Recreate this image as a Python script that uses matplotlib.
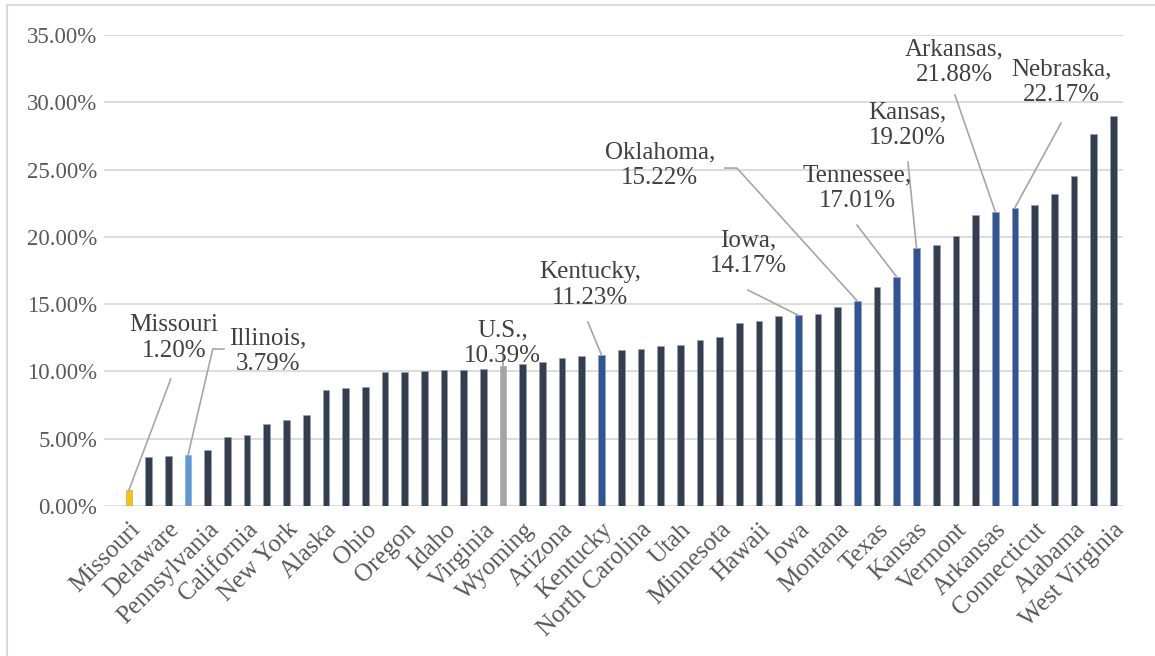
import numpy as np
import matplotlib
matplotlib.use("Agg")
import matplotlib.pyplot as plt
from matplotlib.patches import Rectangle

plt.rcParams['font.family'] = ['Liberation Serif', 'DejaVu Serif']

# categories (only every other one is printed on the axis; '' = not readable)
states = ["Missouri", "", "Delaware", "Illinois", "Pennsylvania", "", "California", "",
          "New York", "", "Alaska", "", "Ohio", "", "Oregon", "", "Idaho", "", "Virginia",
          "U.S.", "Wyoming", "", "Arizona", "", "Kentucky", "", "North Carolina", "", "Utah",
          "", "Minnesota", "", "Hawaii", "", "Iowa", "", "Montana", "Oklahoma", "Texas",
          "Tennessee", "Kansas", "", "Vermont", "", "Arkansas", "Nebraska", "Connecticut", "",
          "Alabama", "", "West Virginia"]
tick_names = ["Missouri", "Delaware", "Pennsylvania", "California", "New York", "Alaska",
              "Ohio", "Oregon", "Idaho", "Virginia", "Wyoming", "Arizona", "Kentucky",
              "North Carolina", "Utah", "Minnesota", "Hawaii", "Iowa", "Montana", "Texas",
              "Kansas", "Vermont", "Arkansas", "Connecticut", "Alabama", "West Virginia"]

# percent values
values = [1.20, 3.62, 3.71, 3.79, 4.16, 5.10, 5.27, 6.07, 6.39, 6.74,
          8.64, 8.77, 8.82, 9.93, 9.98, 10.00, 10.10, 10.12, 10.18, 10.39,
          10.55, 10.70, 11.02, 11.17, 11.23, 11.57, 11.64, 11.87, 12.00, 12.30,
          12.58, 13.63, 13.78, 14.13, 14.17, 14.30, 14.78, 15.22, 16.26, 17.01,
          19.20, 19.43, 20.10, 21.63, 21.88, 22.17, 22.37, 23.21, 24.51, 27.64,
          29.01]

# annotated bars: name shown, label text
labelled = {
    "Missouri": "Missouri\n1.20%",
    "Illinois": "Illinois,\n3.79%",
    "U.S.": "U.S.,\n10.39%",
    "Kentucky": "Kentucky,\n11.23%",
    "Iowa": "Iowa,\n14.17%",
    "Oklahoma": "Oklahoma,\n15.22%",
    "Tennessee": "Tennessee,\n17.01%",
    "Kansas": "Kansas,\n19.20%",
    "Arkansas": "Arkansas,\n21.88%",
    "Nebraska": "Nebraska,\n22.17%",
}

DARK = "#333F50"
BLUE = "#2F5597"
colors = [DARK] * len(values)
colors[states.index("Missouri")] = "#FFC000"
colors[states.index("Illinois")] = "#5B9BD5"
colors[states.index("U.S.")] = "#A5A5A5"
for s in ["Kentucky", "Iowa", "Oklahoma", "Tennessee", "Kansas", "Arkansas", "Nebraska"]:
    colors[states.index(s)] = BLUE

W, H = 1155, 656
fig = plt.figure(figsize=(W / 100, H / 100), dpi=100)
ax = fig.add_axes([104 / W, 1 - 506 / H, (1123 - 104) / W, (506 - 35) / H])

x = np.arange(len(values))
ax.bar(x, values, width=0.34, color=colors, edgecolor="#9aa0aa", linewidth=0.4, zorder=3)

ax.set_ylim(0, 35)
ax.set_xlim(-1.27, 50.49)
ax.set_yticks(np.arange(0, 36, 5))
ax.set_yticklabels(["{:.2f}%".format(v) for v in np.arange(0, 36, 5)],
                   fontsize=16.5, color="#595959")
ax.yaxis.grid(True, color="#D9D9D9", linewidth=1.3, zorder=0)
ax.set_xticks(x[::2])
ax.set_xticklabels(tick_names, rotation=45, ha="right", rotation_mode="anchor",
                   fontsize=18, color="#595959")
ax.tick_params(axis="y", length=0, pad=5)
ax.tick_params(axis="x", length=0, pad=9)
for sp in ax.spines.values():
    sp.set_visible(False)


# pixel -> data helpers for label placement
def px(xp):
    return (xp - 129.3) / 19.68


def py(yp):
    return (506 - yp) / 13.46


# text centre and leader start (pixels of the layout)
layout = {
    "Missouri": ((174, 338), [(171, 379)]),
    "Illinois": ((268, 351), [(224, 349), (213, 349)]),
    "U.S.": ((503, 343), [(503, 352)]),
    "Kentucky": ((590, 285), [(588, 322)]),
    "Iowa": ((748, 253), [(748, 290)]),
    "Oklahoma": ((660, 165), [(725, 168), (737, 168)]),
    "Tennessee": ((857, 188), [(857, 225)]),
    "Kansas": ((907, 125), [(908, 162)]),
    "Arkansas": ((954, 62), [(955, 95)]),
    "Nebraska": ((1061, 82), [(1061, 123)]),
}

for name, txt in labelled.items():
    i = states.index(name)
    (tx, ty), pts = layout[name]
    ax.text(px(tx), py(ty), txt, ha="center", va="center", fontsize=18,
            color="#404040", linespacing=1.2, zorder=5)
    lx = [px(p[0]) for p in pts] + [i]
    ly = [py(p[1]) for p in pts] + [values[i]]
    ax.plot(lx, ly, color="#A6A6A6", linewidth=1.2, zorder=4, clip_on=False)

# outer chart border
fig.patches.append(Rectangle((7 / W, -0.1), 1.2, 1.1 - 5 / H, transform=fig.transFigure,
                             fill=False, edgecolor="#D9D9D9", linewidth=1.5))

fig.savefig("out.png", dpi=100)
